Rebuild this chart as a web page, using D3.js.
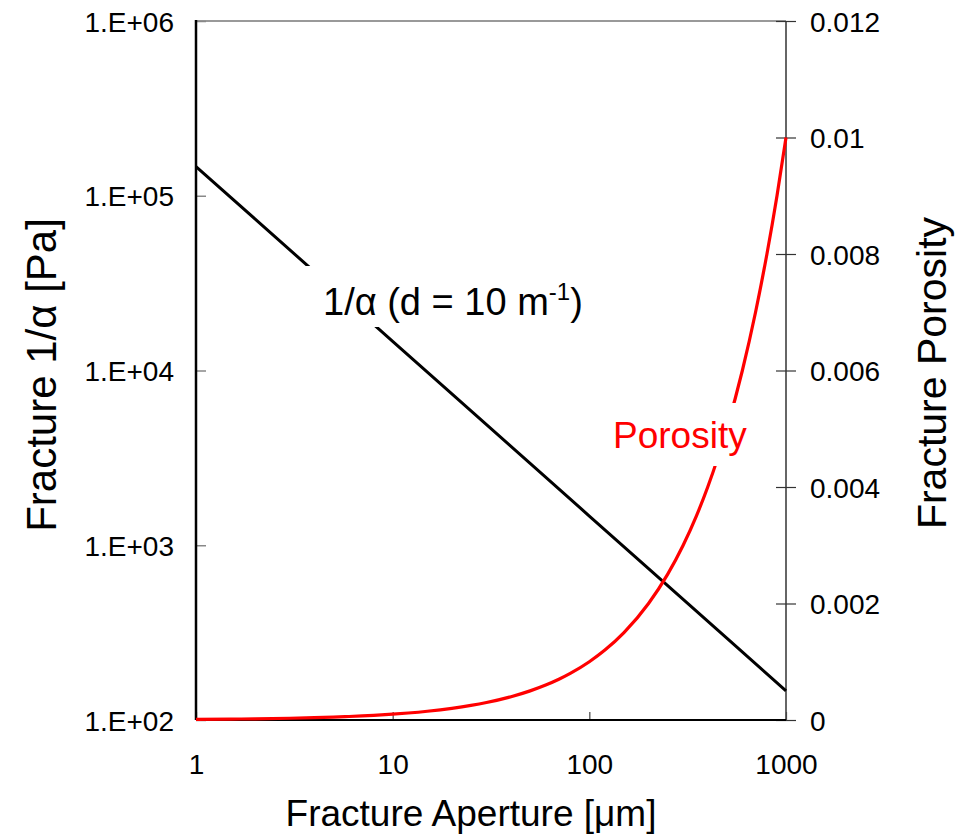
<!DOCTYPE html>
<meta charset="utf-8">
<style>
body { margin: 0; background: #fff; }
text { font-family: "Liberation Sans", Arial, sans-serif; fill: #000; }
</style>
<svg width="962" height="836"></svg>
<script src="https://d3js.org/d3.v7.min.js"></script>
<script>

// aperture [um] for the 1/alpha line, and its value [Pa]
var alphaAperture = [1, 2, 5, 10, 20, 50, 100, 200, 500, 1000];
var invAlpha = [147000, 73500, 29400, 14700, 7350, 2940, 1470, 735, 294, 147];

// aperture [um] for the porosity curve, and porosity [-]
var porAperture = [1, 1.5, 2, 3, 4, 5, 6, 7, 8, 10, 12, 15, 20, 25, 30, 40, 50, 60, 70, 80,
                   100, 120, 150, 200, 250, 300, 350, 400, 450, 500, 600, 700, 800, 900, 1000];
var porosity = [0.00001, 0.000015, 0.00002, 0.00003, 0.00004, 0.00005, 0.00006, 0.00007, 0.00008, 0.0001,
                0.00012, 0.00015, 0.0002, 0.00025, 0.0003, 0.0004, 0.0005, 0.0006, 0.0007, 0.0008,
                0.001, 0.0012, 0.0015, 0.002, 0.0025, 0.003, 0.0035, 0.004, 0.0045, 0.005,
                0.006, 0.007, 0.008, 0.009, 0.01];

var xTicks = [1, 10, 100, 1000];
var leftTicks = [1e2, 1e3, 1e4, 1e5, 1e6];
var leftTickLabels = ["1.E+02", "1.E+03", "1.E+04", "1.E+05", "1.E+06"];
var rightTicks = [0, 0.002, 0.004, 0.006, 0.008, 0.01, 0.012];
var rightTickLabels = ["0", "0.002", "0.004", "0.006", "0.008", "0.01", "0.012"];

var svg = d3.select("svg");
var pLeft = 196, pRight = 786, pTop = 21, pBottom = 720;

var x = d3.scaleLog().domain([1, 1000]).range([pLeft, pRight]);
var yL = d3.scaleLog().domain([1e2, 1e6]).range([pBottom, pTop]);
var yR = d3.scaleLinear().domain([0, 0.012]).range([pBottom, pTop]);

// frame
svg.append("line").attr("x1", pLeft).attr("x2", pRight).attr("y1", pTop).attr("y2", pTop)
    .attr("stroke", "#777").attr("stroke-width", 1.5);

// left axis, ticks inside
var gL = svg.append("g").attr("transform", "translate(" + pLeft + ",0)")
    .call(d3.axisLeft(yL).tickValues(leftTicks).tickSize(-10).tickPadding(22)
      .tickFormat(function(d, i) { return leftTickLabels[i]; }));
gL.select(".domain").remove();
gL.selectAll(".tick line").attr("stroke", "#888").attr("stroke-width", 1.5);
gL.selectAll(".tick text").style("font-size", "28px").attr("dy", "0.36em").attr("fill", "#000");

// right axis, ticks cross
var gR = svg.append("g").attr("transform", "translate(" + pRight + ",0)")
    .call(d3.axisRight(yR).tickValues(rightTicks).tickSize(10).tickPadding(14)
      .tickFormat(function(d, i) { return rightTickLabels[i]; }));
gR.select(".domain").remove();
gR.selectAll(".tick line").attr("x1", -10).attr("stroke", "#333").attr("stroke-width", 1.2);
gR.selectAll(".tick text").style("font-size", "28px").attr("dy", "0.36em").attr("fill", "#000");
svg.append("line").attr("x1", pRight).attr("x2", pRight).attr("y1", pTop).attr("y2", pBottom)
    .attr("stroke", "#333").attr("stroke-width", 1.5);

// bottom axis, ticks inside
var gB = svg.append("g").attr("transform", "translate(0," + pBottom + ")")
    .call(d3.axisBottom(x).tickValues(xTicks).tickSize(-8).tickPadding(34)
      .tickFormat(d3.format("d")));
gB.select(".domain").remove();
gB.selectAll(".tick line").attr("stroke", "#444").attr("stroke-width", 1.2);
gB.selectAll(".tick text").style("font-size", "28px").attr("fill", "#000");
svg.append("line").attr("x1", pLeft).attr("x2", pRight).attr("y1", pBottom).attr("y2", pBottom)
    .attr("stroke", "#000").attr("stroke-width", 2);
svg.append("line").attr("x1", pLeft).attr("x2", pLeft).attr("y1", pTop - 1).attr("y2", pBottom)
    .attr("stroke", "#000").attr("stroke-width", 2.5);

// series
var alphaLine = d3.line()
    .x(function(d, i) { return x(alphaAperture[i]); })
    .y(function(d) { return yL(d); });
svg.append("path").datum(invAlpha).attr("d", alphaLine)
    .attr("fill", "none").attr("stroke", "#000").attr("stroke-width", 3);

var porLine = d3.line()
    .x(function(d, i) { return x(porAperture[i]); })
    .y(function(d) { return yR(d); })
    .curve(d3.curveMonotoneX);
svg.append("path").datum(porosity).attr("d", porLine)
    .attr("fill", "none").attr("stroke", "#f00").attr("stroke-width", 3.2);

// labels with white boxes
svg.append("rect").attr("x", 305).attr("y", 266).attr("width", 290).attr("height", 61).attr("fill", "#fff");
var t1 = svg.append("text").attr("x", 323).attr("y", 315).style("font-size", "38px");
t1.append("tspan").text("1/α (d = 10 m");
t1.append("tspan").attr("dy", -15).style("font-size", "24px").text("-1");
t1.append("tspan").attr("dy", 15).text(")");

svg.append("rect").attr("x", 605).attr("y", 403).attr("width", 147).attr("height", 63).attr("fill", "#fff");
svg.append("text").attr("x", 613).attr("y", 448).style("font-size", "37px")
    .style("fill", "#f00").text("Porosity");

// axis titles
svg.append("text").attr("transform", "translate(56,375) rotate(-90)")
    .attr("text-anchor", "middle").style("font-size", "42px").text("Fracture 1/α [Pa]");
svg.append("text").attr("transform", "translate(946,373) rotate(-90)")
    .attr("text-anchor", "middle").style("font-size", "41px").text("Fracture Porosity");
svg.append("text").attr("x", 471).attr("y", 826)
    .attr("text-anchor", "middle").style("font-size", "37px").text("Fracture Aperture [μm]");

</script>
